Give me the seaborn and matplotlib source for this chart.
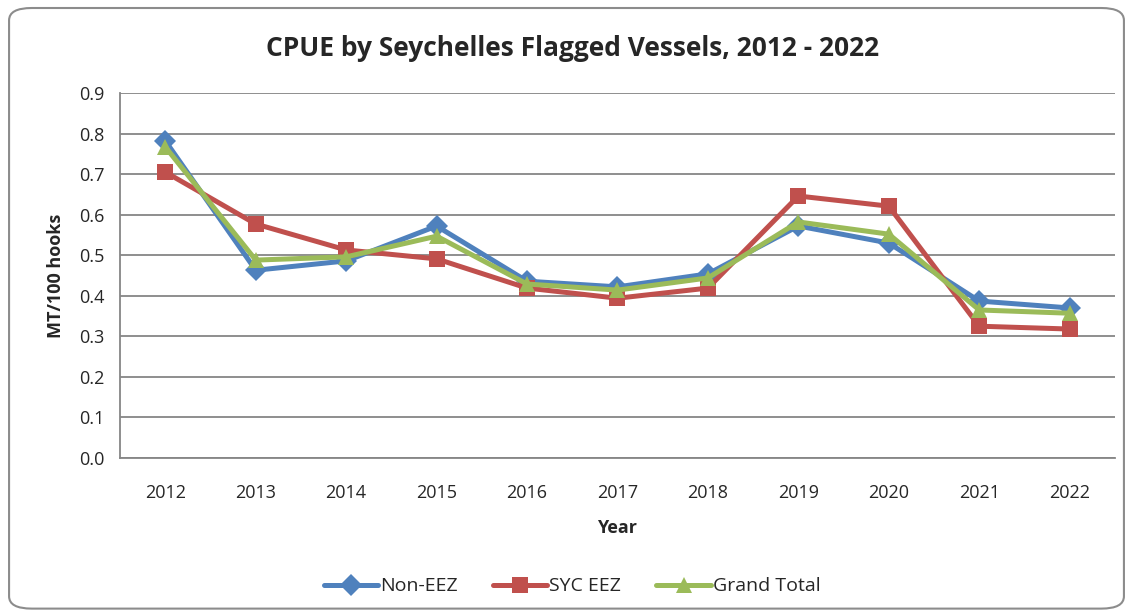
import matplotlib
matplotlib.use("Agg")
import matplotlib.pyplot as plt
import pandas as pd
import seaborn as sns
from matplotlib.patches import FancyBboxPatch
from matplotlib.ticker import FixedLocator, MultipleLocator


YEARS = ["2012", "2013", "2014", "2015", "2016", "2017", "2018", "2019", "2020", "2021", "2022"]
NON_EEZ = [0.782, 0.463, 0.486, 0.572, 0.436, 0.422, 0.454, 0.572, 0.530, 0.387, 0.370]
SYC_EEZ = [0.705, 0.577, 0.513, 0.491, 0.419, 0.394, 0.419, 0.646, 0.621, 0.325, 0.318]
GRAND_TOTAL = [0.767, 0.488, 0.496, 0.547, 0.429, 0.414, 0.444, 0.582, 0.552, 0.365, 0.357]
SERIES = ["Non-EEZ", "SYC EEZ", "Grand Total"]
COLORS = {"Non-EEZ": "#4F81BD", "SYC EEZ": "#C0504D", "Grand Total": "#9BBB59"}
MARKERS = {"Non-EEZ": "D", "SYC EEZ": "s", "Grand Total": "^"}


def build_frame():
    rows = []
    for name, values in zip(SERIES, [NON_EEZ, SYC_EEZ, GRAND_TOTAL]):
        for i, v in enumerate(values):
            rows.append({"pos": i, "series": name, "cpue": v})
    return pd.DataFrame(rows)


def main():
    sns.set_style("white")
    plt.rcParams["font.family"] = ["Open Sans", "DejaVu Sans"]

    df = build_frame()
    fig = plt.figure(figsize=(11.33, 6.16), dpi=100)
    ax = fig.add_axes([0.106, 0.2565, 0.878, 0.5925])

    sns.lineplot(data=df, x="pos", y="cpue", hue="series", style="series",
                 palette=COLORS, markers=MARKERS, dashes=False, linewidth=3.6,
                 markersize=11.5, markeredgewidth=0, ax=ax, sort=False)

    ax.set_xlim(-0.5, len(YEARS) - 0.5)
    ax.set_ylim(0, 0.9)
    ax.yaxis.set_major_locator(MultipleLocator(0.1))
    ax.set_yticklabels([f"{v:.1f}" for v in ax.get_yticks()])
    ax.xaxis.set_major_locator(FixedLocator(range(len(YEARS))))
    ax.set_xticklabels(YEARS)
    ax.xaxis.set_minor_locator(FixedLocator([i - 0.5 for i in range(len(YEARS) + 1)]))
    ax.tick_params(axis="x", which="major", length=0, pad=19, labelsize=13)
    ax.tick_params(axis="x", which="minor", length=5, width=1.2, color="#868686", direction="out")
    ax.tick_params(axis="y", length=5, width=1.2, color="#868686", direction="out", labelsize=13, pad=6)

    ax.grid(axis="y", color="#868686", linewidth=1.3)
    ax.set_axisbelow(True)
    for side in ["top", "right"]:
        ax.spines[side].set_visible(False)
    for side in ["left", "bottom"]:
        ax.spines[side].set_color("#868686")
        ax.spines[side].set_linewidth(1.3)

    ax.set_xlabel("Year", fontsize=13, fontweight="bold", labelpad=12)
    ax.set_ylabel("MT/100 hooks", fontsize=13, fontweight="bold", labelpad=10)
    fig.text(0.505, 0.922, "CPUE by Seychelles Flagged Vessels, 2012 - 2022",
             ha="center", va="center", fontsize=19, fontweight="bold")

    handles, labels = ax.get_legend_handles_labels()
    ax.get_legend().remove()
    fig.legend(handles, labels, loc="center", bbox_to_anchor=(0.505, 0.048), ncol=3,
               frameon=False, fontsize=14, handlelength=2.8, columnspacing=1.8,
               handletextpad=0.1)

    border = FancyBboxPatch((0.008, 0.012), 0.984, 0.975, boxstyle="round,pad=0,rounding_size=0.02",
                            transform=fig.transFigure, fill=False, edgecolor="#8c8c8c",
                            linewidth=1.5)
    fig.patches.append(border)

    fig.savefig("out.png", dpi=100)
    plt.close(fig)


if __name__ == "__main__":
    main()
